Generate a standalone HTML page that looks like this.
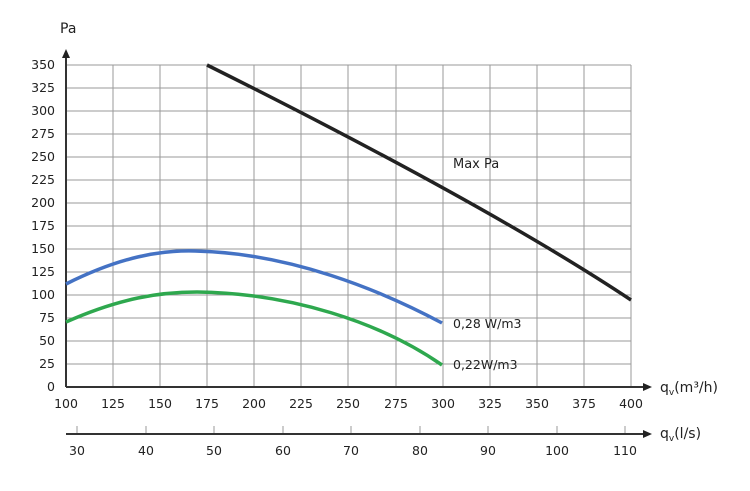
<!DOCTYPE html><html><head><style>body{margin:0;background:#fff}svg text{font-family:"DejaVu Sans","Liberation Sans",sans-serif;font-size:12.5px;fill:#222}</style></head><body>
<svg width="750" height="486" viewBox="0 0 750 486">
<g stroke="#9a9a9a" stroke-width="1">
<line x1="113" y1="65" x2="113" y2="387"/><line x1="160" y1="65" x2="160" y2="387"/><line x1="207" y1="65" x2="207" y2="387"/><line x1="254" y1="65" x2="254" y2="387"/><line x1="301" y1="65" x2="301" y2="387"/><line x1="348" y1="65" x2="348" y2="387"/><line x1="396" y1="65" x2="396" y2="387"/><line x1="443" y1="65" x2="443" y2="387"/><line x1="490" y1="65" x2="490" y2="387"/><line x1="537" y1="65" x2="537" y2="387"/><line x1="584" y1="65" x2="584" y2="387"/><line x1="631" y1="65" x2="631" y2="387"/>
<line x1="66" y1="65" x2="631" y2="65"/><line x1="66" y1="88" x2="631" y2="88"/><line x1="66" y1="111" x2="631" y2="111"/><line x1="66" y1="134" x2="631" y2="134"/><line x1="66" y1="157" x2="631" y2="157"/><line x1="66" y1="180" x2="631" y2="180"/><line x1="66" y1="203" x2="631" y2="203"/><line x1="66" y1="226" x2="631" y2="226"/><line x1="66" y1="249" x2="631" y2="249"/><line x1="66" y1="272" x2="631" y2="272"/><line x1="66" y1="295" x2="631" y2="295"/><line x1="66" y1="318" x2="631" y2="318"/><line x1="66" y1="341" x2="631" y2="341"/><line x1="66" y1="364" x2="631" y2="364"/>
<line x1="77" y1="426" x2="77" y2="434"/><line x1="146" y1="426" x2="146" y2="434"/><line x1="214" y1="426" x2="214" y2="434"/><line x1="283" y1="426" x2="283" y2="434"/><line x1="351" y1="426" x2="351" y2="434"/><line x1="420" y1="426" x2="420" y2="434"/><line x1="488" y1="426" x2="488" y2="434"/><line x1="557" y1="426" x2="557" y2="434"/><line x1="625" y1="426" x2="625" y2="434"/>
</g>
<g stroke="#333" stroke-width="2" fill="none"><line x1="66" y1="387" x2="66" y2="58"/><line x1="66" y1="387" x2="645" y2="387"/><line x1="66" y1="434" x2="645" y2="434"/></g>
<polygon points="66,49 62,58 70,58" fill="#222"/><polygon points="652,387 643,383 643,391" fill="#222"/><polygon points="652,434 643,430 643,438" fill="#222"/>
<path d="M207,65 Q488,205 631,300" stroke="#222" stroke-width="3.5" fill="none"/>
<path d="M66,284 C120,257 160,250 195,251 C290,253 380,290 442,323" stroke="#4472c4" stroke-width="3.5" fill="none"/>
<path d="M66,322 C120,298 160,292 197,292 C290,293 380,322 442,365" stroke="#2ea84e" stroke-width="3.5" fill="none"/>
<text x="60" y="33" style="font-size:14px">Pa</text>
<g text-anchor="end"><text x="55" y="69">350</text><text x="55" y="92">325</text><text x="55" y="115">300</text><text x="55" y="138">275</text><text x="55" y="161">250</text><text x="55" y="184">225</text><text x="55" y="207">200</text><text x="55" y="230">175</text><text x="55" y="253">150</text><text x="55" y="276">125</text><text x="55" y="299">100</text><text x="55" y="322">75</text><text x="55" y="345">50</text><text x="55" y="368">25</text><text x="55" y="391">0</text></g>
<g text-anchor="middle"><text x="66" y="408">100</text><text x="113" y="408">125</text><text x="160" y="408">150</text><text x="207" y="408">175</text><text x="254" y="408">200</text><text x="301" y="408">225</text><text x="348" y="408">250</text><text x="396" y="408">275</text><text x="443" y="408">300</text><text x="490" y="408">325</text><text x="537" y="408">350</text><text x="584" y="408">375</text><text x="631" y="408">400</text>
<text x="77" y="455">30</text><text x="146" y="455">40</text><text x="214" y="455">50</text><text x="283" y="455">60</text><text x="351" y="455">70</text><text x="420" y="455">80</text><text x="488" y="455">90</text><text x="557" y="455">100</text><text x="625" y="455">110</text></g>
<text x="453" y="168" style="font-size:13px">Max Pa</text>
<text x="453" y="328">0,28 W/m3</text><text x="453" y="369">0,22W/m3</text>
<text x="660" y="392" style="font-size:14px">q<tspan dy="3" style="font-size:9px">v</tspan><tspan dy="-3">(m³/h)</tspan></text>
<text x="660" y="438" style="font-size:14px">q<tspan dy="3" style="font-size:9px">v</tspan><tspan dy="-3">(l/s)</tspan></text>
</svg></body></html>
